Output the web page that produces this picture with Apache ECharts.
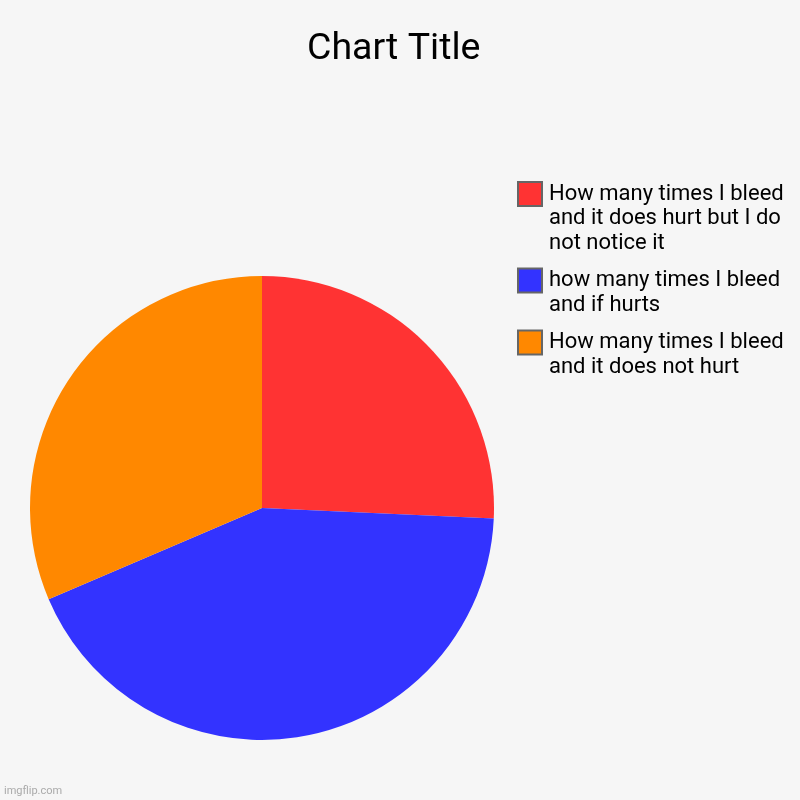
<!DOCTYPE html>
<html>
<head>
<meta charset="utf-8">
<script src="https://cdn.jsdelivr.net/npm/echarts@6/dist/echarts.min.js"></script>
<style>
html,body{margin:0;padding:0;background:#f6f6f6;}
#main{width:800px;height:800px;}
</style>
</head>
<body>
<div id="main"></div>
<script>
const categories = [
  'How many times I bleed and it does hurt but I do not notice it',
  'how many times I bleed and if hurts',
  'How many times I bleed and it does not hurt'
];
const values = [9, 15, 11];
const colors = ['#ff3333', '#3333ff', '#ff8800'];
const chartTitle = 'Chart Title';
const watermark = 'imgflip.com';

const FONT = 'Roboto';
const LEG_SIZE = 22;
const WRAP_W = 250;

const ctx = document.createElement('canvas').getContext('2d');
ctx.font = LEG_SIZE + 'px ' + FONT;
function wrap(text) {
  const words = text.split(' ');
  const lines = [];
  let cur = '';
  words.forEach(w => {
    const t = cur ? cur + ' ' + w : w;
    if (cur && ctx.measureText(t).width > WRAP_W) { lines.push(cur); cur = w; }
    else cur = t;
  });
  if (cur) lines.push(cur);
  return lines;
}

const rich = {
  t: { fontSize: LEG_SIZE, fontFamily: FONT, color: '#000', lineHeight: 24.5 },
  sp: { width: 8, lineHeight: 24.5 },
  ind: { width: 30, lineHeight: 24.5 }
};
colors.forEach((c, i) => {
  rich['c' + i] = { width: 22, height: 22, backgroundColor: c, borderColor: '#666', borderWidth: 2, lineHeight: 24.5 };
});

const chart = echarts.init(document.getElementById('main'));
chart.setOption({
  backgroundColor: '#f6f6f6',
  animation: false,
  color: colors,
  title: [
    { text: chartTitle, left: 307, top: 31, padding: 0,
      textStyle: { fontSize: 37.5, fontWeight: 'normal', color: '#000', fontFamily: FONT } },
    { text: watermark, left: 4, bottom: 3, padding: 0,
      textStyle: { fontSize: 11, fontWeight: 'normal', color: '#aaa', fontFamily: FONT } }
  ],
  legend: {
    orient: 'vertical',
    left: 514,
    top: 181,
    padding: 0,
    itemGap: 13.5,
    itemWidth: 0,
    itemHeight: 0,
    itemStyle: { opacity: 0 },
    selectedMode: false,
    data: categories,
    formatter: function (name) {
      const i = categories.indexOf(name);
      const lines = wrap(name);
      return lines.map((l, k) => (k === 0 ? '{c' + i + '| }{sp| }' : '{ind| }') + '{t|' + l + '}').join('\n');
    },
    textStyle: { rich: rich }
  },
  series: [{
    type: 'pie',
    center: [262, 508],
    radius: 232,
    startAngle: 90,
    clockwise: true,
    label: { show: false },
    labelLine: { show: false },
    emphasis: { disabled: true },
    itemStyle: { borderWidth: 0 },
    data: categories.map((n, i) => ({ name: n, value: values[i] }))
  }]
});
</script>
</body>
</html>
